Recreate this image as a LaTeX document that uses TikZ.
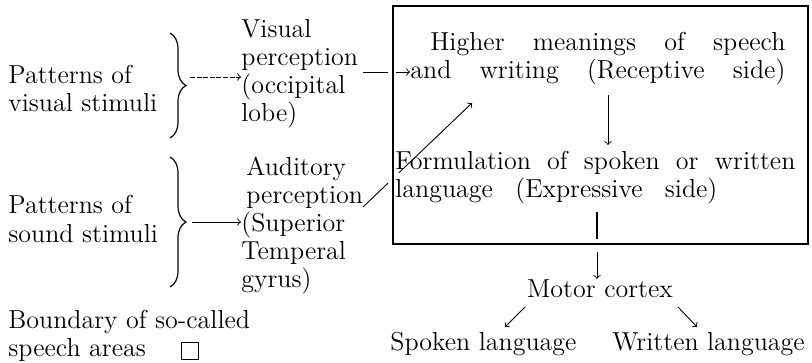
\documentclass[tikz,border=0pt]{standalone}
\usepackage{tikz}
\usetikzlibrary{decorations.pathreplacing,calc}

\tikzset{
    txt/.style={inner sep=0pt, align=left, anchor=base west},
    frame/.style={line width=0.8pt},
    conn/.style={line width=0.45pt},
    brc/.style={line width=0.6pt, decorate,
        decoration={brace, amplitude=8pt}}
}

\begin{document}
\begin{tikzpicture}[x=0.5pt, y=-0.5pt, font=\fontsize{13}{14}\selectfont]
            \useasboundingbox (0,0) rectangle (812,363);

            % left column (base = last line)
            \node[txt] (visstim) at (8,112) {Patterns of\\visual stimuli};
            \node[txt] (sndstim) at (8,242) {Patterns of\\sound stimuli};
            \draw[brc] (170,33) -- (170,138) coordinate[midway] (vismid);
            \draw[brc] (170,157) -- (170,287) coordinate[midway] (sndmid);
            \coordinate (vistip) at (190,77);
            \coordinate (sndtip) at (192,222);

            % perception areas
            \node[txt] (visperc) at (241,122)
                {Visual\\perception\\(occipital\\lobe)};
            \node[txt] (audperc) at (241,287)
                {\hspace*{2.5pt}Auditory\\\hspace*{2.5pt}perception\\(Superior\\Temperal\\gyrus)};
            \draw[conn, ->, dash pattern=on 2.5pt off 0.8pt]
                (vistip) -- (vistip -| visperc.west);
            \draw[conn, ->] (sndtip) -- (sndtip -| audperc.west);

            % speech areas
            \node[frame, draw, inner sep=0pt, anchor=north west,
                minimum width=207.5pt, minimum height=119pt] (speech) at (392,5) {};
            \node[txt] (higher) at (410,79)
                {\hspace*{10pt}\makebox[177.5pt][s]{Higher meanings of speech}\\
                 \makebox[187.5pt][s]{and writing (Receptive side)}};
            \node[txt] (formul) at (395,198)
                {\makebox[200pt][s]{Formulation of spoken or written}\\
                 \makebox[161pt][s]{language (Expressive side)}};
            \coordinate (visout) at (363,72);
            \coordinate (audout) at (363,207);
            \coordinate (highin) at (472,103);
            % connectors break where they cross the frame
            \draw[conn] (visout) -- ([xshift=-2pt]visout -| speech.west);
            \draw[conn, ->] ([xshift=2pt]visout -| speech.west) -- (visout -| higher.west);
            \draw[conn] (audout) -- ($(audout)!0.23!(highin)$);
            \draw[conn, ->] ($(audout)!0.33!(highin)$) -- (highin);
            \draw[conn, ->] (608,95) -- (608,145);

            % output side
            \node[inner sep=0pt, anchor=base] (motor) at (600,297) {Motor cortex};
            \node[txt] (spoken) at (390,350) {Spoken language};
            \node[txt] (written) at (612,350) {Written language};
            \draw[line width=0.8pt] (597,212) -- ([yshift=3pt]speech.south -| 597,0);
            \draw[conn, ->] ([yshift=-3.5pt]speech.south -| 597,0) -- (motor.north -| 597,0);
            \draw[conn, ->] (525,307) -- (505,327);
            \draw[conn, ->] (678,307) -- (697,327);

            % legend
            \node[txt] (legend) at (8,356) {Boundary of so-called\\speech areas};
            \node[draw, line width=0.5pt, minimum size=8.5pt, inner sep=0pt]
                (legbox) at (189.5,350.5) {};
        \end{tikzpicture}
\end{document}
